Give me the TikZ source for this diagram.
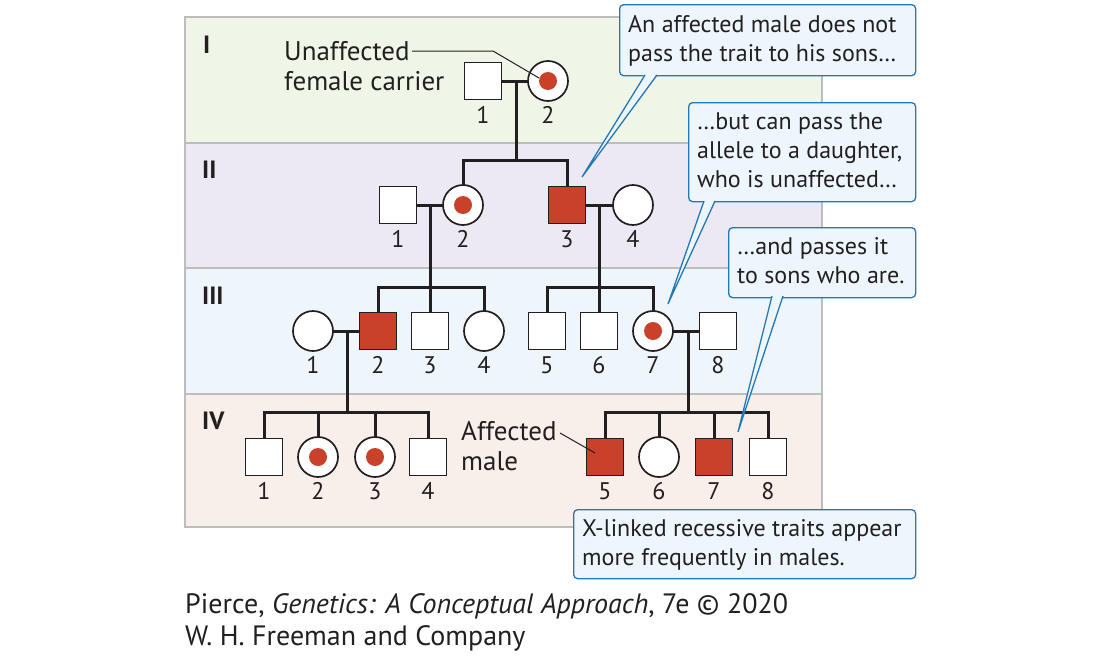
\documentclass[tikz,border=0pt]{standalone}
\usepackage{fontspec}
\usetikzlibrary{calc}
\setmainfont{PT Sans}
\setsansfont{PT Sans}
\definecolor{bandI}{HTML}{EFF6E7}
\definecolor{bandII}{HTML}{ECE9F4}
\definecolor{bandIII}{HTML}{EEF6FC}
\definecolor{bandIV}{HTML}{F8EEEA}
\definecolor{bandline}{HTML}{BDBDBD}
\definecolor{ink}{HTML}{231F20}
\definecolor{affred}{HTML}{C9402B}
\definecolor{calblue}{HTML}{2478B5}
\definecolor{calfill}{HTML}{EEF6FD}
\tikzset{
  person/.style={draw=ink, line width=1.7pt, fill=white, inner sep=0pt},
  sq/.style={person, rectangle, minimum size=37pt},
  afsq/.style={sq, fill=affred},
  ci/.style={person, circle, minimum size=40pt},
  carrier/.style={ci, path picture={\fill[affred] (path picture bounding box.center) circle (9pt);}},
  lnk/.style={draw=ink, line width=3pt},
  num/.style={font=\fontsize{24}{28}\selectfont, text=ink, inner sep=0pt},
  gen/.style={font=\fontsize{25}{28}\selectfont\bfseries, text=ink, inner sep=0pt, anchor=base west},
  note/.style={font=\fontsize{27}{30}\selectfont, text=ink, inner sep=0pt, align=left, anchor=base west},
  leader/.style={draw=ink, line width=1pt},
  calbox/.style={draw=calblue, fill=calfill, line width=1.3pt, rounded corners=4pt, rectangle,
     inner sep=0pt, anchor=north west},
  caltext/.style={inner sep=0pt, anchor=base west, align=left,
     font=\fontsize{24}{29}\selectfont, text=ink},
  ptr/.style={draw=calblue, line width=1.3pt, line join=miter},
}
\newcommand\pers[5]{%
  \node[#2] (#1) at (#3,#4) {};
  \node[num, anchor=base] (#1n) at ({#3},{#4+42}) {#5};}
\begin{document}
\begin{tikzpicture}[x=1pt,y=-1pt]
\useasboundingbox (0,0) rectangle (1100,659);
% bands
\fill[bandI] (185,17) rectangle (822,143);
\fill[bandII] (185,143) rectangle (822,268);
\fill[bandIII] (185,268) rectangle (822,394);
\fill[bandIV] (185,394) rectangle (822,527);
\draw[bandline, line width=1.2pt] (185,143) -- (822,143) (185,268) -- (822,268) (185,394) -- (822,394);
\draw[bandline, line width=1.5pt] (185,17) rectangle (822,527);
% generation labels
\node[gen] (gI) at (203,53) {I};
\node[gen] (gII) at (202,178) {II};
\node[gen] (gIII) at (202,304) {III};
\node[gen] (gIV) at (202,429) {IV};
% junctions
\coordinate (m1) at (516,81);  \coordinate (s1) at (516,160);
\coordinate (m2) at (430,205); \coordinate (s2) at (430,287);
\coordinate (m3) at (599,205); \coordinate (s3) at (599,287);
\coordinate (m4) at (347,331); \coordinate (s4) at (347,412);
\coordinate (m5) at (688,331); \coordinate (s5) at (688,412);
% lines (drawn first, symbols on top)
\draw[lnk] (483,81) -- (548,81);
\draw[lnk] (m1) -- (s1);
\draw[lnk] (463,205) |- (s1) -| (567,205);
\draw[lnk] (398,205) -- (463,205);
\draw[lnk] (567,205) -- (633,205);
\draw[lnk] (m2) -- (s2) -- (430,331);
\draw[lnk] (378,331) |- (s2) -| (484,331);
\draw[lnk] (m3) -- (s3) -- (599,331);
\draw[lnk] (547,331) |- (s3) -| (653,331);
\draw[lnk] (313,331) -- (378,331);
\draw[lnk] (653,331) -- (718,331);
\draw[lnk] (m4) -- (s4);
\draw[lnk] (264,457) |- (s4) -| (428,457);
\draw[lnk] (318,457) -- (318,412);
\draw[lnk] (375,457) -- (375,412);
\draw[lnk] (m5) -- (s5);
\draw[lnk] (605,457) |- (s5) -| (768,457);
\draw[lnk] (659,457) -- (659,412);
\draw[lnk] (714,457) -- (714,412);
% persons
\pers{I1}{sq}{483}{81}{1}
\pers{I2}{carrier}{548}{81}{2}
\pers{II1}{sq}{398}{205}{1}
\pers{II2}{carrier}{463}{205}{2}
\pers{II3}{afsq}{567}{205}{3}
\pers{II4}{ci}{633}{205}{4}
\pers{III1}{ci}{313}{331}{1}
\pers{III2}{afsq}{378}{331}{2}
\pers{III3}{sq}{430}{331}{3}
\pers{III4}{ci}{484}{331}{4}
\pers{III5}{sq}{547}{331}{5}
\pers{III6}{sq}{599}{331}{6}
\pers{III7}{carrier}{653}{331}{7}
\pers{III8}{sq}{718}{331}{8}
\pers{IV1}{sq}{264}{457}{1}
\pers{IV2}{carrier}{318}{457}{2}
\pers{IV3}{carrier}{375}{457}{3}
\pers{IV4}{sq}{428}{457}{4}
\pers{IV5}{afsq}{605}{457}{5}
\pers{IV6}{ci}{659}{457}{6}
\pers{IV7}{afsq}{714}{457}{7}
\pers{IV8}{sq}{768}{457}{8}
% annotations
\node[note] (carr) at (284,90) {Unaffected\\female carrier};
\coordinate (ca) at (412,51);
\coordinate (cb) at (493,51);
\coordinate (ct) at (539,78);
\draw[leader] (ca) -- (cb) -- (ct);
\node[note] (affm) at (461,470) {Affected\\male};
\coordinate (aa) at (560,433);
\coordinate (at) at (595,453);
\draw[leader] (aa) -- (at);
% callout boxes
\node[calbox, minimum width=296pt, minimum height=71pt] (c1) at (619,4) {};
\node[calbox, minimum width=227pt, minimum height=99pt] (c2) at (688,102) {};
\node[calbox, minimum width=187pt, minimum height=70pt] (c3) at (728,227) {};
\node[calbox, minimum width=342pt, minimum height=69pt] (c4) at (573,509) {};
% pointers
\coordinate (p1a) at (645,75); \coordinate (p1b) at (657,75); \coordinate (t1) at (582,177);
\coordinate (p2a) at (704,201); \coordinate (p2b) at (715,201); \coordinate (t2) at (668,304);
\coordinate (p3a) at (772,296); \coordinate (p3b) at (783,296); \coordinate (t3) at (738,432);
\fill[calfill] ($(p1a)+(0,-1.5)$) -- (t1) -- ($(p1b)+(0,-1.5)$) -- cycle;
\draw[ptr] (p1a) -- (t1) -- (p1b);
\fill[calfill] ($(p2a)+(0,-1.5)$) -- (t2) -- ($(p2b)+(0,-1.5)$) -- cycle;
\draw[ptr] (p2a) -- (t2) -- (p2b);
\fill[calfill] ($(p3a)+(0,-1.5)$) -- (t3) -- ($(p3b)+(0,-1.5)$) -- cycle;
\draw[ptr] (p3a) -- (t3) -- (p3b);
% callout texts
\node[caltext] (c1t) at (628,61) {An affected male does not\\pass the trait to his sons…};
\node[caltext] (c2t) at (697,187) {…but can pass the\\allele to a daughter,\\who is unaffected…};
\node[caltext] (c3t) at (737,283) {…and passes it\\to sons who are.};
\node[caltext] (c4t) at (582,565) {X-linked recessive traits appear\\more frequently in males.};
% footer
\node[note, font=\fontsize{28}{32}\selectfont] (foot) at (185,645)
  {Pierce, \textit{Genetics: A Conceptual Approach}, 7e © 2020\\W. H. Freeman and Company};
\end{tikzpicture}
\end{document}
